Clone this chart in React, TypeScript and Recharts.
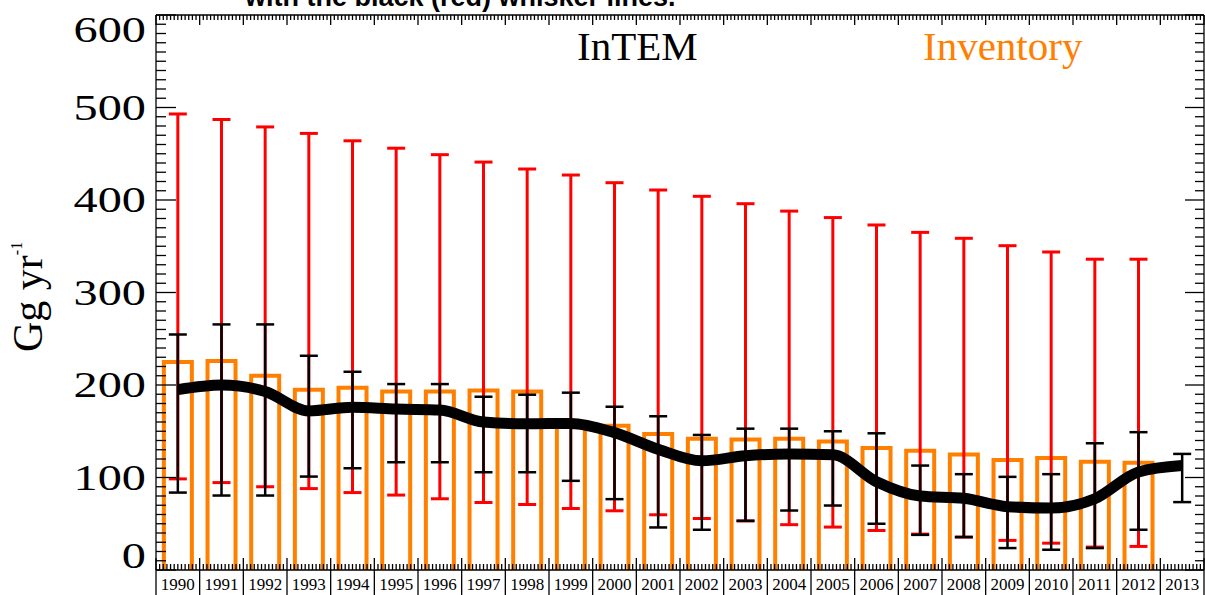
import React from 'react';
import { ComposedChart, Bar, Line, XAxis, YAxis, ErrorBar } from 'recharts';

const years = ['1990','1991','1992','1993','1994','1995','1996','1997','1998','1999','2000','2001','2002','2003','2004','2005','2006','2007','2008','2009','2010','2011','2012','2013'];
const inventory = [225, 226, 210, 195, 197, 193, 193, 194, 193, 158, 156, 147, 142, 141, 142, 139, 132, 129, 125, 119, 121, 117, 116, null];
const intem = [195, 200, 193, 172, 176, 174, 173, 160, 158, 158.5, 148.5, 130.5, 118, 123.5, 125.5, 124.5, 95.5, 80, 77.5, 68.5, 67, 77, 106, 113];
const intemLow = [83.7, 80.5, 80.5, 101, 110, 116.5, 116.5, 105.7, 105.7, 96.4, 76.6, 46, 43.5, 53.2, 64.3, 69.7, 50, 38, 35.6, 23.7, 21.9, 23.7, 43.5, 73.4];
const intemHigh = [254.6, 265.5, 265.5, 231.6, 214.3, 201, 201, 187.3, 189.5, 191.7, 176.5, 166.2, 146, 152.8, 152.8, 150, 147.8, 112.9, 103.6, 100.7, 103.6, 137, 149, 125.5];
const redLow = [98.5, 94.5, 90, 88, 83.7, 81, 77, 73, 70.8, 66.5, 64, 59.7, 55.7, 53, 49, 46.4, 42.7, 38.8, 35.6, 32, 29, 24.8, 25.5, null];
const redHigh = [493, 487, 479, 472, 464, 456, 449, 441, 433.5, 427, 418.7, 410.8, 404, 396, 388, 381, 373, 365, 358.6, 350.6, 343.8, 336, 336, null];

const yTickLabels = [0, 100, 200, 300, 400, 500, 600];
const Y_MIN = 0;
const Y_MAX = 600;
const Y_MINOR_STEP = 10;
const MONTHS_PER_YEAR = 12;
const FIRST_YEAR = Number(years[0]);
const LAST_EDGE = FIRST_YEAR + years.length;

const data = years.map((y, i) => ({
  year: y,
  mid: Number(y) + 0.5,
  inventory: inventory[i],
  intem: intem[i],
  blackErr: [intem[i] - intemLow[i], intemHigh[i] - intem[i]],
  redErr: redLow[i] == null || redHigh[i] == null ? null : [intem[i] - (redLow[i] as number), (redHigh[i] as number) - intem[i]],
}));

const yTicks: number[] = [];
for (let v = Y_MIN; v <= Y_MAX; v += Y_MINOR_STEP) yTicks.push(v);
const monthTicks: number[] = [];
for (let k = 0; k <= years.length * MONTHS_PER_YEAR; k++) monthTicks.push(FIRST_YEAR + k / MONTHS_PER_YEAR);

const SERIF = "'Liberation Serif', 'Times New Roman', serif";
const AXIS = '#000';
const ORANGE = '#FF8000';

const LeftYTick = (props: any) => {
  const { x, y, payload } = props;
  const v = payload.value;
  const major = yTickLabels.includes(v);
  let ty = y + 12;
  if (v === Y_MAX) ty = y + 27;
  if (v === Y_MIN) ty = y - 2;
  return (
    <g>
      <line x1={x} x2={x + (major ? 20 : 10)} y1={y} y2={y} stroke={AXIS} strokeWidth={1.3} />
      {major && (
        <text transform={`translate(${x - 10},${ty}) scale(1.38,1)`} textAnchor="end" fontFamily={SERIF} fontSize={35} fill="#000">
          {v}
        </text>
      )}
    </g>
  );
};

const RightYTick = (props: any) => {
  const { x, y, payload } = props;
  const major = yTickLabels.includes(payload.value);
  return <line x1={x} x2={x - (major ? 19 : 9)} y1={y} y2={y} stroke={AXIS} strokeWidth={1.3} />;
};

const BottomTick = (props: any) => {
  const { x, y, payload } = props;
  const k = Math.round((payload.value - FIRST_YEAR) * MONTHS_PER_YEAR);
  const isYear = k % MONTHS_PER_YEAR === 0;
  const isMid = k % MONTHS_PER_YEAR === MONTHS_PER_YEAR / 2;
  const label = years[Math.floor(k / MONTHS_PER_YEAR)];
  return (
    <g>
      <line x1={x} x2={x} y1={isYear ? y - 12 : y - 6} y2={isYear ? y + 25 : y} stroke={AXIS} strokeWidth={1.3} />
      {isMid && label && (
        <text x={x} y={y + 20} textAnchor="middle" fontFamily={SERIF} fontSize={17} fill="#000">
          {label}
        </text>
      )}
    </g>
  );
};

const TopTick = (props: any) => {
  const { x, y, payload } = props;
  const k = Math.round((payload.value - FIRST_YEAR) * MONTHS_PER_YEAR);
  const isYear = k % MONTHS_PER_YEAR === 0;
  return <line x1={x} x2={x} y1={y} y2={y + (isYear ? 10 : 5)} stroke={AXIS} strokeWidth={1.3} />;
};

const OpenBar = (props: any) => {
  const { x, y, width, height } = props;
  if (x == null || y == null || !width || !height) return null;
  const d = `M${x},${y + height} L${x},${y} L${x + width},${y} L${x + width},${y + height}`;
  return <path d={d} fill="none" stroke={ORANGE} strokeWidth={4} />;
};

export default function App() {
  return (
    <div style={{ position: 'absolute', left: 0, top: 0, width: 1205, height: 595, background: '#fff' }}>
      <ComposedChart
        width={1205}
        height={595}
        data={data}
        margin={{ top: 14, right: 0, bottom: 0, left: 0 }}
        barCategoryGap="18%"
      >
        <XAxis xAxisId="cat" dataKey="year" hide height={0} />
        <XAxis
          xAxisId="m"
          dataKey="mid"
          type="number"
          domain={[FIRST_YEAR, LAST_EDGE]}
          allowDataOverflow
          ticks={monthTicks}
          interval={0}
          tick={<BottomTick />}
          tickLine={false}
          tickSize={0}
          tickMargin={0}
          height={25}
          axisLine={{ stroke: AXIS, strokeWidth: 1.3 }}
        />
        <XAxis
          xAxisId="t"
          dataKey="mid"
          orientation="top"
          type="number"
          domain={[FIRST_YEAR, LAST_EDGE]}
          allowDataOverflow
          ticks={monthTicks}
          interval={0}
          tick={<TopTick />}
          tickLine={false}
          tickSize={0}
          tickMargin={0}
          height={1}
          axisLine={{ stroke: AXIS, strokeWidth: 1.3 }}
        />
        <YAxis
          yAxisId="l"
          domain={[Y_MIN, Y_MAX]}
          allowDataOverflow
          ticks={yTicks}
          interval={0}
          width={156}
          tick={<LeftYTick />}
          tickLine={false}
          tickSize={0}
          tickMargin={0}
          axisLine={{ stroke: AXIS, strokeWidth: 1.3 }}
        />
        <YAxis
          yAxisId="r"
          orientation="right"
          domain={[Y_MIN, Y_MAX]}
          allowDataOverflow
          ticks={yTicks}
          interval={0}
          width={1}
          tick={<RightYTick />}
          tickLine={false}
          tickSize={0}
          tickMargin={0}
          axisLine={{ stroke: AXIS, strokeWidth: 1.3 }}
        />
        <Line xAxisId="m" yAxisId="r" dataKey="intem" stroke="none" dot={false} activeDot={false} legendType="none" isAnimationActive={false} />
        <Line xAxisId="t" yAxisId="r" dataKey="intem" stroke="none" dot={false} activeDot={false} legendType="none" isAnimationActive={false} />
        <Bar xAxisId="cat" yAxisId="l" dataKey="inventory" shape={<OpenBar />} isAnimationActive={false} />
        <Line
          xAxisId="cat"
          yAxisId="l"
          dataKey="intem"
          stroke="none"
          dot={false}
          activeDot={false}
          isAnimationActive={false}
        >
          <ErrorBar dataKey="redErr" direction="y" width={9} stroke="#FF0000" strokeWidth={3} isAnimationActive={false} />
          <ErrorBar dataKey="blackErr" direction="y" width={9} stroke="#000" strokeWidth={2.5} isAnimationActive={false} />
        </Line>
        <Line
          xAxisId="cat"
          yAxisId="l"
          dataKey="intem"
          type="monotone"
          stroke="#000"
          strokeWidth={11}
          strokeLinejoin="round"
          dot={false}
          activeDot={false}
          isAnimationActive={false}
        />
      </ComposedChart>
      <svg width={1205} height={595} style={{ position: 'absolute', left: 0, top: 0, pointerEvents: 'none' }}>
        <text x={245} y={6} fontFamily="'Liberation Sans', Arial, sans-serif" fontWeight="bold" fontSize={27} fill="#000">
          with the black (red) whisker lines.
        </text>
        <text transform="translate(42,352) rotate(-90)" fontFamily={SERIF} fontSize={42} fill="#000">
          Gg yr<tspan dy={-20} fontSize={16}>-1</tspan>
        </text>
        <text x={577} y={60} fontFamily={SERIF} fontSize={41} fill="#000">InTEM</text>
        <text x={923} y={60} fontFamily={SERIF} fontSize={41} fill={ORANGE}>Inventory</text>
      </svg>
    </div>
  );
}
